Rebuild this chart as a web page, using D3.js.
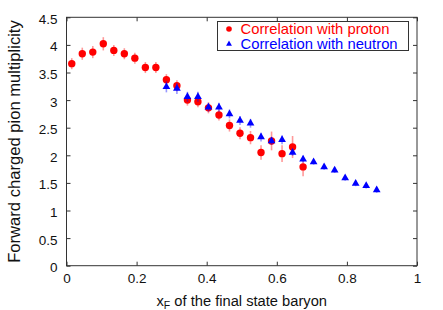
<!DOCTYPE html>
<html>
<head>
<meta charset="utf-8">
<script src="https://cdn.jsdelivr.net/npm/d3@7"></script>
<style>
  body { margin: 0; background: #fff; }
  svg { display: block; font-family: "Liberation Sans", Arial, sans-serif; }
</style>
</head>
<body>
<div id="chart"></div>
<script>
// proton-correlated points
var xfProton = [0.015, 0.045, 0.075, 0.105, 0.135, 0.165, 0.195, 0.225, 0.255, 0.285, 0.315, 0.345,
                0.375, 0.405, 0.435, 0.465, 0.495, 0.525, 0.555, 0.585, 0.615, 0.645, 0.675];
var multProton = [3.66, 3.84, 3.87, 4.02, 3.90, 3.84, 3.76, 3.59, 3.59, 3.37, 3.26, 3.00,
                  2.97, 2.86, 2.73, 2.54, 2.40, 2.32, 2.05, 2.26, 2.03, 2.15, 1.79];
var errProton = [0.10, 0.11, 0.11, 0.12, 0.10, 0.10, 0.10, 0.10, 0.10, 0.10, 0.10, 0.10,
                 0.10, 0.10, 0.10, 0.11, 0.11, 0.12, 0.13, 0.17, 0.15, 0.20, 0.17];

// neutron-correlated points
var xfNeutron = [0.285, 0.315, 0.345, 0.375, 0.405, 0.435, 0.465, 0.495, 0.525, 0.555, 0.585,
                 0.615, 0.645, 0.675, 0.705, 0.735, 0.765, 0.795, 0.825, 0.855, 0.885];
var multNeutron = [3.24, 3.21, 3.06, 3.06, 2.87, 2.87, 2.75, 2.63, 2.58, 2.33, 2.26,
                   2.28, 2.05, 1.93, 1.88, 1.79, 1.73, 1.59, 1.49, 1.45, 1.37];
var errNeutron = [0.10, 0.10, 0.09, 0.09, 0.08, 0.08, 0.08, 0.08, 0.08, 0.08, 0.07,
                  0.08, 0.06, 0.06, 0.05, 0.05, 0.05, 0.05, 0.05, 0.05, 0.05];

var xTicks = [0, 0.2, 0.4, 0.6, 0.8, 1];
var yTicks = [0, 0.5, 1, 1.5, 2, 2.5, 3, 3.5, 4, 4.5];
var seriesNames = ["Correlation with proton", "Correlation with neutron"];

var W = 443, H = 310;
var plot = {left: 66.5, right: 417, top: 17.3, bottom: 265.7};

var svg = d3.select("#chart").append("svg")
    .attr("width", W)
    .attr("height", H);

var x = d3.scaleLinear().domain([0, 1]).range([plot.left, plot.right]);
var y = d3.scaleLinear().domain([0, 4.5]).range([plot.bottom, plot.top]);
var fmt = d3.format("~g");

// ticks on all four sides, pointing inward
var gx = svg.append("g")
    .attr("transform", "translate(0," + plot.bottom + ")")
    .call(d3.axisBottom(x).tickValues(xTicks).tickFormat(fmt).tickSize(-4).tickPadding(8));
var gxTop = svg.append("g")
    .attr("transform", "translate(0," + plot.top + ")")
    .call(d3.axisTop(x).tickValues(xTicks).tickFormat("").tickSize(-4));
var gy = svg.append("g")
    .attr("transform", "translate(" + plot.left + ",0)")
    .call(d3.axisLeft(y).tickValues(yTicks).tickFormat(fmt).tickSize(-4).tickPadding(9));
var gyRight = svg.append("g")
    .attr("transform", "translate(" + plot.right + ",0)")
    .call(d3.axisRight(y).tickValues(yTicks).tickFormat("").tickSize(-4));

[gx, gxTop, gy, gyRight].forEach(function(g) {
    g.select(".domain").remove();
    g.selectAll(".tick line").attr("stroke", "#333");
    g.selectAll(".tick text")
        .attr("fill", "#111")
        .attr("font-size", 13.5)
        .attr("font-family", "Liberation Sans, Arial, sans-serif");
});
gy.selectAll(".tick text").attr("dy", "0.45em");

// frame
svg.append("rect")
    .attr("x", plot.left).attr("y", plot.top)
    .attr("width", plot.right - plot.left).attr("height", plot.bottom - plot.top)
    .attr("fill", "none").attr("stroke", "#333").attr("stroke-width", 1);

var proton = xfProton.map(function(d, i) { return {x: d, y: multProton[i], e: errProton[i]}; });
var neutron = xfNeutron.map(function(d, i) { return {x: d, y: multNeutron[i], e: errNeutron[i]}; });

// error bars
svg.append("g").selectAll("line")
    .data(proton).enter().append("line")
    .attr("x1", function(d) { return x(d.x); })
    .attr("x2", function(d) { return x(d.x); })
    .attr("y1", function(d) { return y(d.y - d.e); })
    .attr("y2", function(d) { return y(d.y + d.e); })
    .attr("stroke", "rgba(255,0,0,0.4)")
    .attr("stroke-width", 1.6);

svg.append("g").selectAll("circle")
    .data(proton).enter().append("circle")
    .attr("cx", function(d) { return x(d.x); })
    .attr("cy", function(d) { return y(d.y); })
    .attr("r", 3.7)
    .attr("fill", "#ff0000");

svg.append("g").selectAll("line")
    .data(neutron).enter().append("line")
    .attr("x1", function(d) { return x(d.x); })
    .attr("x2", function(d) { return x(d.x); })
    .attr("y1", function(d) { return y(d.y - d.e); })
    .attr("y2", function(d) { return y(d.y + d.e); })
    .attr("stroke", "rgba(0,0,255,0.4)")
    .attr("stroke-width", 1.6);

var tri = d3.symbol().type(d3.symbolTriangle).size(26);
svg.append("g").selectAll("path")
    .data(neutron).enter().append("path")
    .attr("d", tri)
    .attr("transform", function(d) { return "translate(" + x(d.x) + "," + y(d.y) + ")"; })
    .attr("fill", "#0000ff");

// legend
var legend = svg.append("g");
legend.append("rect")
    .attr("x", 217.5).attr("y", 21.5)
    .attr("width", 191).attr("height", 29)
    .attr("fill", "#fff").attr("stroke", "#333");

legend.append("circle")
    .attr("cx", 229).attr("cy", 29).attr("r", 2.8)
    .attr("fill", "#ff0000");
legend.append("path")
    .attr("d", d3.symbol().type(d3.symbolTriangle).size(15))
    .attr("transform", "translate(229,44)")
    .attr("fill", "#0000ff");

legend.append("text")
    .attr("x", 240.5).attr("y", 34)
    .attr("font-size", 14.8).attr("fill", "#ff0000")
    .text(seriesNames[0]);
legend.append("text")
    .attr("x", 240.5).attr("y", 49)
    .attr("font-size", 14.8).attr("fill", "#0000ff")
    .text(seriesNames[1]);

// axis titles
var xt = svg.append("text")
    .attr("x", (plot.left + plot.right) / 2).attr("y", 306)
    .attr("text-anchor", "middle")
    .attr("font-size", 14.7).attr("fill", "#111");
xt.append("tspan").text("x");
xt.append("tspan").attr("font-size", 10.5).attr("dy", 3).text("F");
xt.append("tspan").attr("dy", -3).text(" of the final state baryon");

svg.append("text")
    .attr("transform", "translate(20," + ((plot.top + plot.bottom) / 2) + ") rotate(-90)")
    .attr("text-anchor", "middle")
    .attr("font-size", 16.6).attr("fill", "#111")
    .text("Forward charged pion multiplicity");
</script>
</body>
</html>
